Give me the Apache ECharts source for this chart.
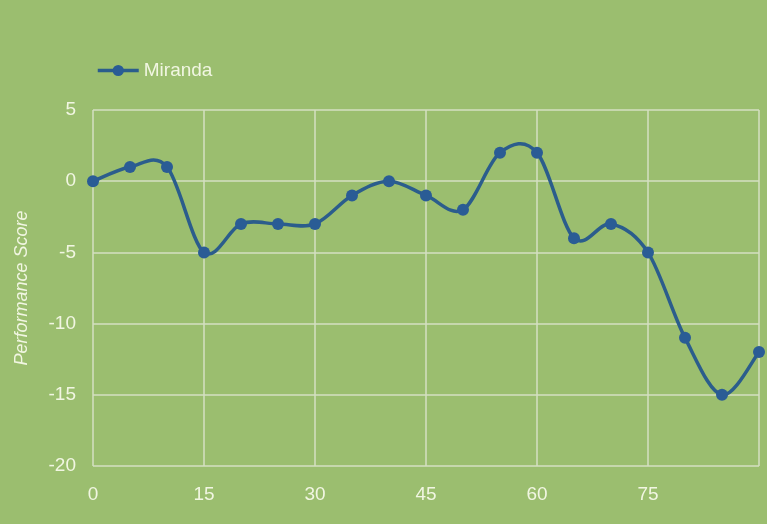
<!DOCTYPE html>
<html>
<head>
<meta charset="utf-8">
<script src="https://cdn.jsdelivr.net/npm/echarts@6/dist/echarts.min.js"></script>
<style>
  html, body { margin: 0; padding: 0; background: #9bbe6f; }
  #chart { width: 767px; height: 524px; }
</style>
</head>
<body>
<div id="chart"></div>
<script>
// values
const xValues = [0, 5, 10, 15, 20, 25, 30, 35, 40, 45, 50, 55, 60, 65, 70, 75, 80, 85, 90];
const mirandaScores = [0, 1, 1, -5, -3, -3, -3, -1, 0, -1, -2, 2, 2, -4, -3, -5, -11, -15, -12];
const seriesName = "Miranda";
const yAxisTitle = "Performance Score";

const textColor = "#f1f6e2";
const gridColor = "#d4dfc2";
const lineColor = "#2b5d8c";
const dotColor = "#2a5c95";
const font = "Liberation Sans";

const points = xValues.map((x, i) => [x, mirandaScores[i]]);

// excel-like smoothing: each item draws the curve to the next point,
// control points from the neighbours (catmull-rom, 1/6)
function renderSegment(params, api) {
  const i = params.dataIndex;
  if (i >= points.length - 1) return;
  const p = (k) => api.coord(points[Math.max(0, Math.min(points.length - 1, k))]);
  const p0 = p(i - 1), p1 = p(i), p2 = p(i + 1), p3 = p(i + 2);
  const t = 1 / 6;
  const c1 = [p1[0] + (p2[0] - p0[0]) * t, p1[1] + (p2[1] - p0[1]) * t];
  const c2 = [p2[0] - (p3[0] - p1[0]) * t, p2[1] - (p3[1] - p1[1]) * t];
  return {
    type: "path",
    shape: {
      pathData: `M${p1[0]} ${p1[1]} C${c1[0]} ${c1[1]} ${c2[0]} ${c2[1]} ${p2[0]} ${p2[1]}`,
    },
    style: { fill: null, stroke: lineColor, lineWidth: 3.5, lineCap: "round" },
  };
}

let myChart = echarts.init(document.getElementById("chart"));
myChart.setOption({
  backgroundColor: "#9bbe6f",
  legend: {
    left: 91,
    top: 56,
    itemWidth: 41,
    itemHeight: 14,
    itemGap: 10,
    data: [seriesName],
    lineStyle: { color: lineColor, width: 3.5, opacity: 1 },
    textStyle: { color: textColor, fontSize: 19, fontFamily: font },
  },
  grid: { left: 93, right: 8, top: 110, bottom: 58 },
  xAxis: {
    type: "value",
    min: 0,
    max: 90,
    interval: 15,
    axisLine: { show: false },
    axisTick: { show: false },
    splitLine: { show: true, lineStyle: { color: gridColor, width: 1.5 } },
    axisLabel: {
      color: textColor,
      fontSize: 19,
      fontFamily: font,
      margin: 19,
      formatter: (v) => (v === 90 ? "" : v),
    },
  },
  yAxis: {
    type: "value",
    min: -20,
    max: 5,
    interval: 5,
    name: yAxisTitle,
    nameLocation: "middle",
    nameGap: 62,
    nameTextStyle: {
      color: textColor,
      fontSize: 18,
      fontStyle: "italic",
      fontFamily: font,
    },
    axisLine: { show: false },
    axisTick: { show: false },
    splitLine: { show: true, lineStyle: { color: gridColor, width: 1.5 } },
    axisLabel: { color: textColor, fontSize: 19, fontFamily: font, margin: 17 },
  },
  series: [
    {
      name: seriesName + "-curve",
      type: "custom",
      renderItem: renderSegment,
      data: points,
      z: 2,
      silent: true,
    },
    {
      name: seriesName,
      type: "line",
      symbol: "circle",
      symbolSize: 12,
      lineStyle: { width: 0, opacity: 0 },
      itemStyle: { color: dotColor },
      data: points,
      z: 3,
    },
  ],
});
</script>
</body>
</html>
